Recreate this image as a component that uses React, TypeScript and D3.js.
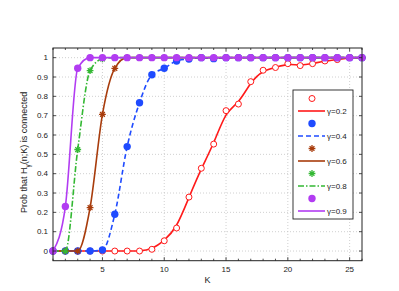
import React from "react";
import * as d3 from "d3";

const kValues = d3.range(1, 27);

const probG02 = [0, 0, 0, 0, 0, 0, 0, 0, 0.009, 0.053, 0.119, 0.279, 0.428, 0.553, 0.726, 0.76, 0.876, 0.935, 0.949, 0.969, 0.959, 0.969, 0.983, 0.99, 1, 1];
const probG04 = [0, 0, 0, 0, 0.005, 0.19, 0.54, 0.767, 0.912, 0.945, 0.983, 0.993, 1, 0.995, 1, 1, 1, 1, 1, 1, 1, 1, 1, 1, 1, 1];
const probG06 = [0, 0, 0, 0.224, 0.707, 0.945, 1, 1, 1, 1, 1, 1, 1, 1, 1, 1, 1, 1, 1, 1, 1, 1, 1, 1, 1, 1];
const probG08 = [0, 0, 0.525, 0.933, 0.994, 1, 1, 1, 1, 1, 1, 1, 1, 1, 1, 1, 1, 1, 1, 1, 1, 1, 1, 1, 1, 1];
const probG09 = [0, 0.23, 0.945, 1, 1, 1, 1, 1, 1, 1, 1, 1, 1, 1, 1, 1, 1, 1, 1, 1, 1, 1, 1, 1, 1, 1];

const seriesLabels = ["γ=0.2", "γ=0.4", "γ=0.6", "γ=0.8", "γ=0.9"];
const yTicks = d3.range(0, 11).map((i) => i / 10);
const xMajorTicks = [5, 10, 15, 20, 25];

const series = [
  { label: seriesLabels[0], values: probG02, color: "#ff1a1a", marker: "open", dash: null, curve: d3.curveBasis },
  { label: seriesLabels[1], values: probG04, color: "#1f4bff", marker: "dot", dash: "5,3", curve: d3.curveMonotoneX },
  { label: seriesLabels[2], values: probG06, color: "#a83c0c", marker: "star", dash: null, curve: d3.curveMonotoneX },
  { label: seriesLabels[3], values: probG08, color: "#33b833", marker: "star", dash: "6,2,1.5,2", curve: d3.curveMonotoneX },
  { label: seriesLabels[4], values: probG09, color: "#b23cf2", marker: "dot", dash: null, curve: d3.curveMonotoneX },
];

const width = 399;
const height = 291;
const margin = { top: 48, right: 37, bottom: 30, left: 53 };
const font = "'Liberation Sans', Arial, sans-serif";

const Marker = ({ kind, color, x, y }) => {
  if (kind === "open") {
    return <circle cx={x} cy={y} r={3} fill="white" stroke={color} strokeWidth={1} />;
  }
  if (kind === "dot") {
    return <circle cx={x} cy={y} r={3.7} fill={color} />;
  }
  const r = 3.4;
  const d = [0, 45, 90, 135]
    .map((a) => {
      const t = (a * Math.PI) / 180;
      const dx = r * Math.cos(t);
      const dy = r * Math.sin(t);
      return `M${x - dx},${y - dy}L${x + dx},${y + dy}`;
    })
    .join("");
  return <path d={d} stroke={color} strokeWidth={1.3} fill="none" />;
};

const App = () => {
  const innerWidth = width - margin.left - margin.right;
  const innerHeight = height - margin.top - margin.bottom - 0.3;

  const xScale = d3.scaleLinear().domain([1, 26]).range([0, innerWidth]);
  const yScale = d3.scaleLinear().domain([-0.05, 1.05]).range([innerHeight, 0]);

  const legendX = 293 - margin.left;
  const legendY = 90 - margin.top;

  return (
    <svg
      width={width}
      height={height}
      style={{ position: "absolute", left: 0, top: 0, background: "white", fontFamily: font }}
    >
      <g transform={`translate(${margin.left},${margin.top})`}>
        {
          // grid
          yTicks.map((t) => (
            <line key={"gy" + t} x1={0} x2={innerWidth} y1={yScale(t)} y2={yScale(t)} stroke="#c4c4c4" strokeWidth={0.8} strokeDasharray="1,2" />
          ))
        }
        {xMajorTicks.map((t) => (
          <line key={"gx" + t} x1={xScale(t)} x2={xScale(t)} y1={0} y2={innerHeight} stroke="#c4c4c4" strokeWidth={0.8} strokeDasharray="1,2" />
        ))}

        {
          // lines and markers
          series.map((s) => {
            const line = d3
              .line()
              .x((d, i) => xScale(kValues[i]))
              .y((d) => yScale(d))
              .curve(s.curve);
            return (
              <g key={s.label}>
                <path d={line(s.values)} fill="none" stroke={s.color} strokeWidth={1.6} strokeDasharray={s.dash || undefined} />
                {s.values.map((v, i) => (
                  <Marker key={i} kind={s.marker} color={s.color} x={xScale(kValues[i])} y={yScale(v)} />
                ))}
              </g>
            );
          })
        }

        {
          // axes box
        }
        <rect x={0} y={0} width={innerWidth} height={innerHeight} fill="none" stroke="#222" strokeWidth={1} />
        {yTicks.map((t) => (
          <g key={"ty" + t}>
            <line x1={0} x2={3} y1={yScale(t)} y2={yScale(t)} stroke="#222" strokeWidth={0.8} />
            <line x1={innerWidth} x2={innerWidth - 3} y1={yScale(t)} y2={yScale(t)} stroke="#222" strokeWidth={0.8} />
            <text x={-5} y={yScale(t)} dy=".35em" textAnchor="end" fontSize={8} fill="#222">
              {t === 0 || t === 1 ? t.toFixed(0) : t.toFixed(1)}
            </text>
          </g>
        ))}
        {kValues.map((k) => {
          const len = xMajorTicks.includes(k) ? 3.5 : 2;
          return (
            <g key={"tx" + k}>
              <line x1={xScale(k)} x2={xScale(k)} y1={innerHeight} y2={innerHeight - len} stroke="#222" strokeWidth={0.8} />
              <line x1={xScale(k)} x2={xScale(k)} y1={0} y2={len} stroke="#222" strokeWidth={0.8} />
            </g>
          );
        })}
        {xMajorTicks.map((t) => (
          <text key={"lx" + t} x={xScale(t)} y={innerHeight + 11.5} textAnchor="middle" fontSize={8} fill="#222">
            {t}
          </text>
        ))}
        <text x={xScale(13.5)} y={innerHeight + 22.5} textAnchor="middle" fontSize={9} fill="#222">
          K
        </text>
        <text transform={`translate(${-26},${innerHeight / 2 - 2}) rotate(-90)`} textAnchor="middle" fontSize={9} fill="#222">
          Prob that H
          <tspan fontSize={6.5} dy={2.5}>γ</tspan>
          <tspan dy={-2.5}>(n;K) is connected</tspan>
        </text>

        {
          // legend
        }
        <g transform={`translate(${legendX},${legendY})`}>
          <rect x={0} y={0} width={60} height={129} fill="white" stroke="#222" strokeWidth={0.9} />
          {series.map((s, i) => {
            const my = 8.5 + i * 25;
            const ly = my + 12.5;
            return (
              <g key={"lg" + s.label}>
                <Marker kind={s.marker} color={s.color} x={19} y={my} />
                <line x1={5} x2={32} y1={ly} y2={ly} stroke={s.color} strokeWidth={1.6} strokeDasharray={s.dash || undefined} />
                <text x={34} y={ly} dy=".35em" fontSize={8} fill="#222">
                  {s.label}
                </text>
              </g>
            );
          })}
        </g>
      </g>
    </svg>
  );
};

export default App;
